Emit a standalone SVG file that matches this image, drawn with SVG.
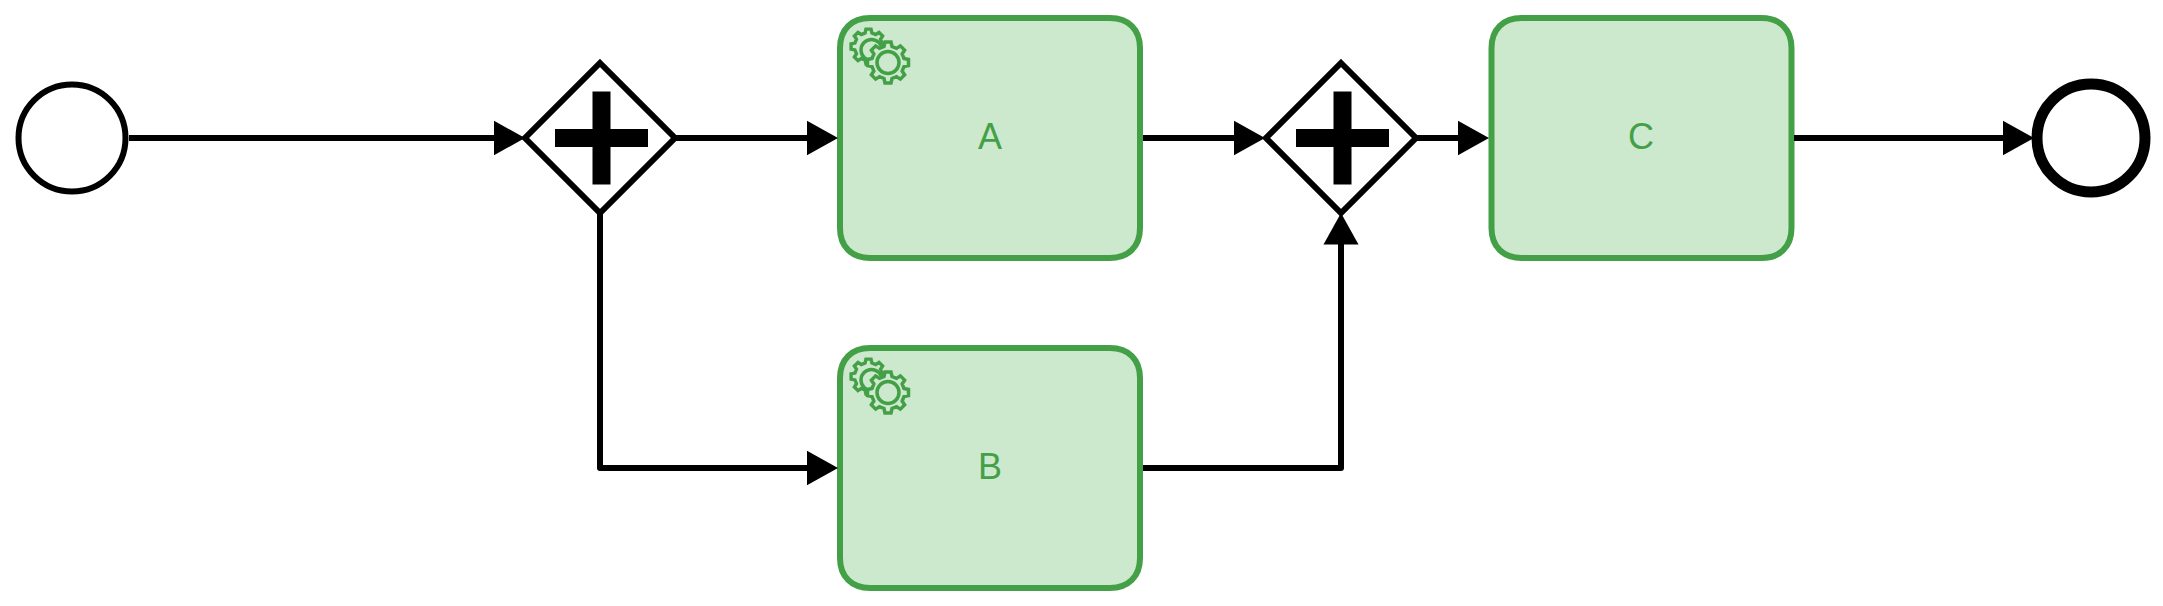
<svg xmlns="http://www.w3.org/2000/svg" width="2163" height="606" viewBox="0 0 2163 606">
<style>
.task{fill:#cce8cd;stroke:#43a047;stroke-width:6}
.lbl{fill:#43a047;font-family:"Liberation Sans",Arial,sans-serif;font-size:36px;text-anchor:middle}
.gear{fill:#cce8cd;stroke:#43a047;stroke-width:3.500;stroke-linejoin:miter}
.flow{fill:none;stroke:#000;stroke-width:6;stroke-linejoin:round;marker-end:url(#arrow)}
.ev{fill:#fff;stroke:#000}
.gw{fill:#fff;stroke:#000;stroke-width:6}
</style>
<defs>
<marker id="arrow" markerUnits="userSpaceOnUse" markerWidth="32" markerHeight="36" refX="10" refY="18" orient="auto"><path d="M0 .5L31.500 18L0 35.500Z" fill="#000"/></marker>
<path id="gearShape" d="M-3-20.5H3L4-16L8.49-14.14L12.37-16.62L16.62-12.37L14.14-8.49L16-4L20.5-3V3L16 4L14.14 8.49L16.62 12.37L12.37 16.62L8.49 14.14L4 16L3 20.5H-3L-4 16L-8.49 14.14L-12.37 16.62L-16.62 12.37L-14.14 8.49L-16 4L-20.5 3V-3L-16-4L-14.14-8.49L-16.62-12.37L-12.37-16.62L-8.49-14.14L-4-16Z"/>
<g id="gears">
<use href="#gearShape" class="gear" transform="translate(868.5 46.5) scale(.85)" style="stroke-width:4"/>
<circle cx="871.500" cy="50" r="10.5" class="gear"/>
<use href="#gearShape" class="gear" transform="translate(888 62.5)"/>
<circle cx="888" cy="62.5" r="11" class="gear"/>
</g>
<path id="plus" d="M592.500 91.500H610.500V129H648V147H610.500V184.500H592.500V147H555V129H592.500Z" fill="#000"/>
<path id="box" d="M870 18H1110C1128.500 18 1140 29.500 1140 48V228C1140 246.500 1128.500 258 1110 258H870C851.500 258 840 246.500 840 228V48C840 29.500 851.500 18 870 18Z"/>
</defs>
<g id="start"><path class="ev" stroke-width="6" d="M18.500 138A53.500 53.500 0 0 1 34.170 100.170A53.500 53.500 0 0 1 72 84.500A53.500 53.500 0 0 1 109.830 100.170A53.500 53.500 0 0 1 125.500 138A53.500 53.500 0 0 1 109.830 175.830A53.500 53.500 0 0 1 72 191.500A53.500 53.500 0 0 1 34.170 175.830A53.500 53.500 0 0 1 18.500 138Z"/></g>
<g id="gateway1"><path class="gw" d="M600 63L675 138L600 213L525 138Z"/><use href="#plus"/></g>
<g id="taskA"><use href="#box" class="task"/><use href="#gears"/><text class="lbl" x="990" y="149">A</text></g>
<g id="taskB"><use href="#box" class="task" y="330"/><use href="#gears" y="330"/><text class="lbl" x="990" y="479">B</text></g>
<g id="gateway2"><path class="gw" d="M1341 63L1416 138L1341 213L1266 138Z"/><use href="#plus" x="741"/></g>
<g id="taskC"><use href="#box" class="task" x="651.500"/><text class="lbl" x="1641" y="149">C</text></g>
<g id="end"><path class="ev" stroke-width="11" d="M2037 138A54 54 0 0 1 2052.820 99.820A54 54 0 0 1 2091 84A54 54 0 0 1 2129.180 99.820A54 54 0 0 1 2145 138A54 54 0 0 1 2129.180 176.180A54 54 0 0 1 2091 192A54 54 0 0 1 2052.820 176.180A54 54 0 0 1 2037 138Z"/></g>
<g id="connectors">
<path class="flow" d="M129 138H503.500"/>
<path class="flow" d="M675 138H816.500"/>
<path class="flow" d="M600 213V468H816.500"/>
<path class="flow" d="M1143 138H1243.500"/>
<path class="flow" d="M1143 468H1341V234.500"/>
<path class="flow" d="M1416 138H1467.500"/>
<path class="flow" d="M1794 138H2012.500"/>
</g>
</svg>
